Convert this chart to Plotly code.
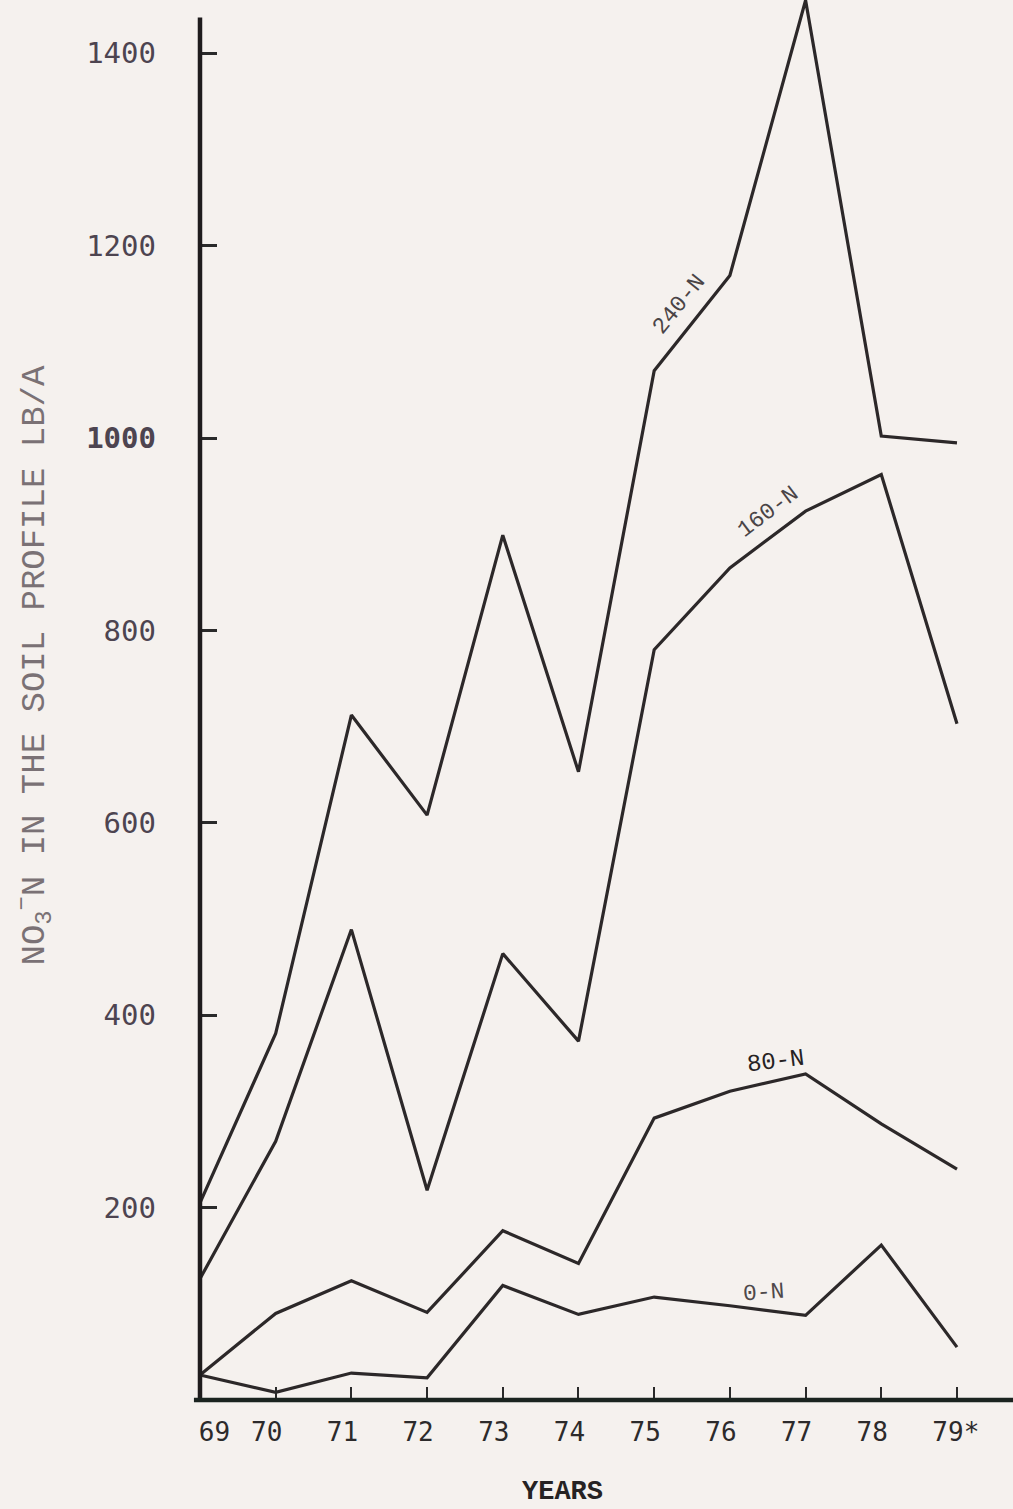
import plotly.graph_objects as go

# Soil nitrate (NO3-N, lb/A) by year for four nitrogen rates
years = [69, 70, 71, 72, 73, 74, 75, 76, 77, 78, 79]
year_labels = ["\u00a0\u00a0\u00a069", "70", "71", "72", "73", "74", "75", "76", "77", "78", "\u00a079*"]
n240 = [205, 381, 712, 608, 899, 653, 1070, 1169, 1455, 1002, 995]
n160 = [126, 269, 489, 218, 464, 373, 780, 865, 924, 962, 703]
n80 = [26, 90, 124, 91, 176, 142, 293, 321, 339, 287, 240]
n0 = [26, 8, 28, 23, 119, 89, 107, 98, 88, 161, 55]

y_ticks = [200, 400, 600, 800, 1000, 1200, 1400]
y_tick_text = ["200", "400", "600", "800", "<b>1000</b>", "1200", "1400"]

INK = "#2c2829"
BG = "#f5f1ee"
MONO = "DejaVu Sans Mono"
TYPE = "Liberation Mono"

fig = go.Figure()
for series in (n240, n160, n80, n0):
    fig.add_trace(go.Scatter(
        x=years, y=series, mode="lines",
        line=dict(color=INK, width=3.2), showlegend=False, hoverinfo="skip",
    ))

# axis lines drawn as shapes so they stop where the drawing stops
fig.add_shape(type="line", xref="x", yref="y", x0=69, x1=69, y0=0, y1=1437,
              line=dict(color="#1f1c1d", width=4.5))
fig.add_shape(type="line", xref="x", yref="y", x0=68.92, x1=79.74, y0=0, y1=0,
              line=dict(color="#1b2420", width=4.5))


def mid(series, i):
    return (years[i] + years[i + 1]) / 2, (series[i] + series[i + 1]) / 2


x240, y240 = mid(n240, 6)
x160, y160 = mid(n160, 7)

annotations = [
    dict(x=x240, y=y240, text="240-N", textangle=-51, xshift=-13, yshift=18,
         font=dict(family=TYPE, size=23, color="#4a4446")),
    dict(x=x160, y=y160, text="160-N", textangle=-37, xshift=1, yshift=27,
         font=dict(family=TYPE, size=23, color="#4a4446")),
    dict(x=years[8], y=n80[8], text="80-N", textangle=-7, xshift=-30, yshift=12,
         font=dict(family=TYPE, size=24, color="#262223")),
    dict(x=years[8], y=n0[8], text="0-N", textangle=-4, xshift=-42, yshift=22,
         font=dict(family=TYPE, size=23, color="#4e484a")),
    dict(xref="paper", yref="paper", x=0, y=0.528, xshift=-157,
         text="NO<sub>3</sub><sup>\u2212</sup>N IN THE SOIL PROFILE LB/A",
         textangle=-90, xanchor="center", yanchor="middle",
         font=dict(family=TYPE, size=34, color="#7a7175")),
    dict(xref="paper", yref="paper", x=0, y=0, xshift=372, yshift=-82,
         text="<b>YEARS</b>", xanchor="center", yanchor="middle",
         font=dict(family=TYPE, size=27, color="#262223")),
]
for a in annotations:
    a["showarrow"] = False
    fig.add_annotation(**a)

fig.update_layout(
    width=1013, height=1509,
    margin=dict(l=190, r=0, t=0, b=99),
    paper_bgcolor=BG, plot_bgcolor=BG,
    xaxis=dict(
        range=[68.868, 79.740], anchor="free", position=10 / 1410,
        tickmode="array", tickvals=years, ticktext=year_labels,
        ticks="inside", ticklen=13, tickwidth=2, tickcolor="#2a2a2a",
        ticklabelstandoff=14, ticklabelshift=-9,
        tickfont=dict(family=MONO, size=26, color="#2c2a2b"),
        showgrid=False, zeroline=False, showline=False,
    ),
    yaxis=dict(
        range=[-10.4, 1455.3], anchor="free", position=10 / 823,
        tickmode="array", tickvals=y_ticks, ticktext=y_tick_text,
        ticks="inside", ticklen=16, tickwidth=2.5, tickcolor="#2a2a2a",
        ticklabelstandoff=44,
        tickfont=dict(family=MONO, size=29, color="#4d4450"),
        showgrid=False, zeroline=False, showline=False,
    ),
)

fig.write_html("out.html")
